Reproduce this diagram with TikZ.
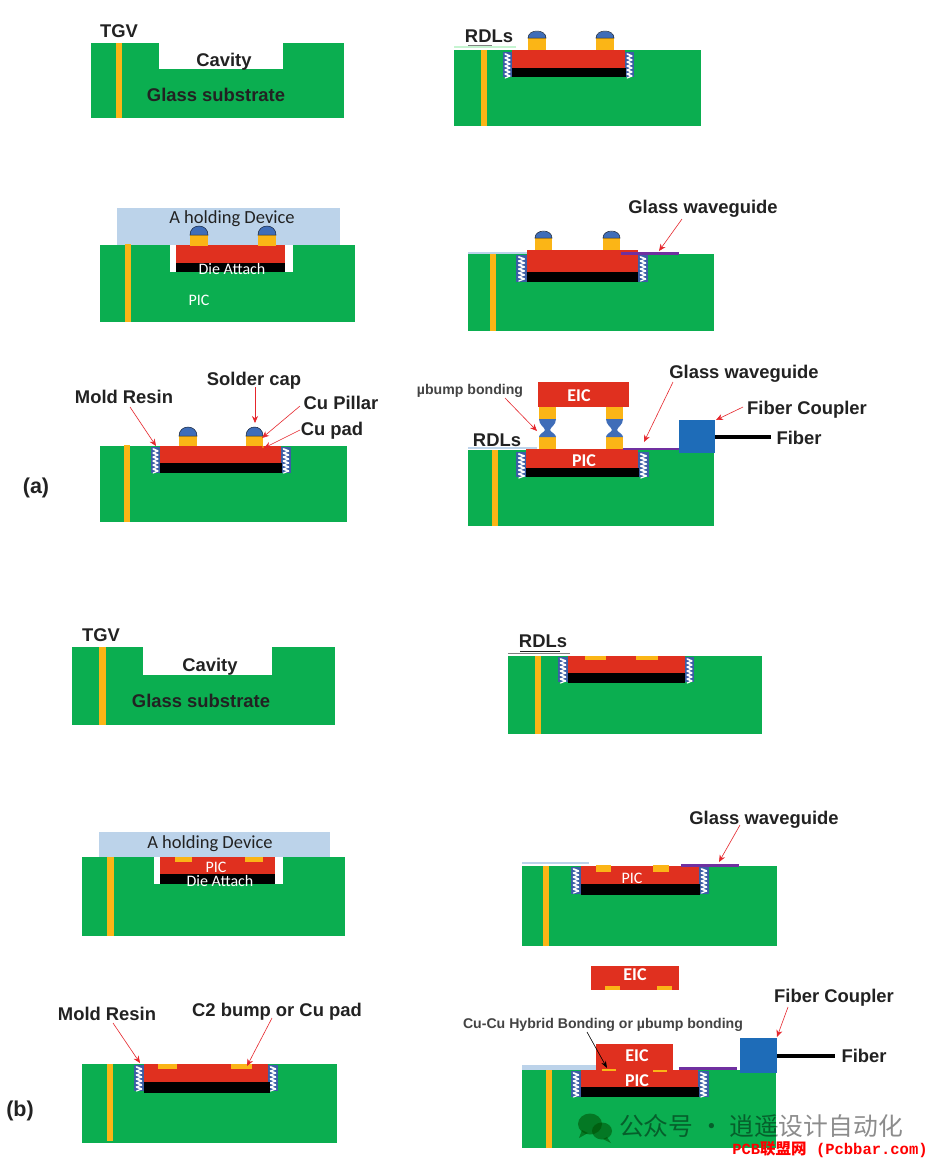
\documentclass[tikz,border=0pt]{standalone}
\usepackage{fontspec}
\setmainfont{Liberation Sans}
\newfontfamily\cjkf{Noto Sans CJK SC}
\newfontfamily\carl{Carlito}
\newfontfamily\monof{Liberation Mono}
\usetikzlibrary{arrows.meta}
\definecolor{glasscol}{HTML}{0BAE50}
\definecolor{picred}{HTML}{E0301F}
\definecolor{cucol}{HTML}{FBB516}
\definecolor{capblue}{HTML}{3F6DB8}
\definecolor{holdercol}{HTML}{BCD3EA}
\definecolor{wavecol}{HTML}{7030A0}
\definecolor{couplercol}{HTML}{1E6CB8}
\definecolor{moldcol}{HTML}{3C5EA6}
\definecolor{ink}{HTML}{222222}
\definecolor{arrowred}{HTML}{E6262C}
\tikzset{
  lbl/.style={font=\bfseries\fontsize{18.4}{20}\selectfont,text=ink,inner sep=0pt,yshift=-1.5pt},
  lblsm/.style={font=\bfseries\fontsize{14.1}{16}\selectfont,text=ink!85,inner sep=0pt,yshift=-1.5pt},
  soft/.style={font=\carl\fontsize{18.5}{20}\selectfont,text=ink,inner sep=0pt,yshift=-1.5pt},
  softw/.style={font=\carl\fontsize{16}{18}\selectfont,text=white,inner sep=0pt,yshift=-1pt},
  chip/.style={font=\carl\bfseries\fontsize{18}{20}\selectfont,text=white,inner sep=0pt,yshift=-1pt},
  panel/.style={font=\bfseries\fontsize{21.5}{24}\selectfont,text=ink,inner sep=0pt,yshift=-1.5pt},
  callout/.style={arrowred,line width=0.6pt,-{Stealth[length=7pt,width=6pt]}},
  calloutk/.style={black,line width=0.6pt,-{Stealth[length=7pt,width=5pt]}},
}
% x1 y1 x2 y2 fill
\newcommand{\blk}[5]{\fill[#5] (#1,#2) rectangle (#3,#4);}
\newcommand{\moldbox}[4]{%
  \fill[moldcol] (#1,#2) rectangle (#3,#4);
  \pgfmathsetmacro{\mxa}{#1+0.25*(#3-#1)}
  \pgfmathsetmacro{\mxb}{#1+0.75*(#3-#1)}
  \pgfmathsetmacro{\mya}{#2+2}
  \pgfmathsetmacro{\myb}{#2+6}
  \pgfmathsetmacro{\myz}{#4-3}
  \foreach \yy in {\mya,\myb,...,\myz}{
    \draw[white,line width=1.7pt,line cap=round] (\mxa,\yy) -- (\mxb,\yy+2);
    \draw[white,line width=1.2pt,line cap=round] (\mxb,\yy+2) -- (\mxa,\yy+4);
  }
}
% x1 x2 ybase ymid ytop
\newcommand{\bump}[5]{%
  \fill[cucol] (#1,#3) rectangle (#2,#4);
  \pgfmathsetmacro{\bc}{#4-(#4-#5)/0.75}
  \filldraw[fill=capblue,draw=black!70!capblue,line width=0.5pt] (#1,#4) .. controls (#1,\bc) and (#2,\bc) .. (#2,#4) -- cycle;
}
% solder joint between x1 x2, y1 waist y2
\newcommand{\solderjoint}[4]{%
  \pgfmathsetmacro{\bm}{(#1+#2)/2}
  \fill[capblue] (#1,#3) -- (#2,#3) .. controls (#2,#3+6) and (\bm+3,#3+8) .. (\bm+2.5,#3+11)
     .. controls (\bm+3,#3+13) and (#2,#3+15) .. (#2,#4)
     -- (#1,#4) .. controls (#1,#3+15) and (\bm-3,#3+13) .. (\bm-2.5,#3+11)
     .. controls (\bm-3,#3+8) and (#1,#3+6) .. (#1,#3) -- cycle;
}
\newcommand{\callout}[6][callout]{%
  \coordinate (#2s) at (#3,#4); \coordinate (#2e) at (#5,#6);
  \draw[#1] (#2s) -- (#2e);
}
\begin{document}
\begin{tikzpicture}[x=1pt,y=-1pt]
\useasboundingbox (0,0) rectangle (933,1163);
\fill[white] (0,0) rectangle (933,1163);

%% ---------- (a) left top
\blk{91}{43}{344}{118}{glasscol}
\blk{159}{43}{283}{69}{white}
\blk{116}{43}{122}{118}{cucol}
\node[lbl] (a1tgv) at (119,30) {TGV};
\node[lbl] (a1cav) at (224,60) {Cavity};
\node[lbl] (a1sub) at (216,93) {Glass substrate};

%% ---------- (a) right top
\blk{454}{50}{701}{126}{glasscol}
\blk{481}{50}{487}{126}{cucol}
\moldbox{503}{52}{512}{77}
\moldbox{625}{52}{634}{77}
\blk{512}{50}{625}{68}{picred}
\blk{512}{68}{626}{77}{black}
\bump{528}{546}{50}{38}{31}
\bump{596}{614}{50}{38}{31}
\draw[holdercol!60!green!40!white,line width=1.2pt] (454,47) -- (516,47);
\draw[gray,line width=0.7pt] (468,45) -- (492,45);
\node[lbl] (a2rdl) at (489,35) {RDLs};

%% ---------- (a) left middle
\blk{100}{245}{355}{322}{glasscol}
\blk{170}{245}{293}{272}{white}
\blk{117}{208}{340}{245}{holdercol}
\blk{125}{244}{131}{322}{cucol}
\blk{176}{245}{285}{263}{picred}
\blk{176}{263}{285}{272}{black}
\bump{190}{208}{246}{235}{226}
\bump{258}{276}{246}{235}{226}
\node[soft] (a3hold) at (232,217) {A holding Device};
\node[softw] (a3die) at (232,268) {Die Attach};
\node[softw] (a3pic) at (199,299) {PIC};

%% ---------- (a) right middle
\blk{468}{254}{714}{331}{glasscol}
\blk{490}{254}{496}{331}{cucol}
\moldbox{516}{255}{527}{282}
\moldbox{638}{255}{648}{282}
\blk{527}{250}{638}{272}{picred}
\blk{527}{272}{638}{282}{black}
\bump{535}{552}{250}{238}{231}
\bump{603}{620}{250}{238}{231}
\draw[holdercol,line width=1.8pt] (468,253) -- (527,253);
\draw[wavecol,line width=3pt] (621,253) -- (679,253);
\node[lbl] (a5wg) at (703,207) {Glass waveguide};
\callout{a5a}{682}{219}{659}{251}

%% ---------- (a) left bottom
\blk{100}{446}{347}{522}{glasscol}
\blk{124}{445}{130}{522}{cucol}
\moldbox{151}{447}{160}{473}
\moldbox{281}{447}{291}{473}
\blk{160}{446}{281}{463}{picred}
\blk{160}{463}{282}{473}{black}
\bump{179}{197}{446}{436}{427}
\bump{246}{263}{446}{436}{427}
\fill[cucol] (263,447) circle (0.8);
\node[lbl] (a4mold) at (124,395) {Mold Resin};
\node[lbl] (a4cap) at (254,379) {Solder cap};
\node[lbl] (a4pil) at (341,401) {Cu Pillar};
\node[lbl] (a4pad) at (332,429) {Cu pad};
\callout{a4a}{130}{407}{156}{446}
\callout{a4b}{255}{387}{255}{423}
\callout{a4c}{300}{406}{262}{438}
\callout{a4d}{300}{430}{264}{448}
\node[panel] (alab) at (36,486) {(a)};

%% ---------- (a) right bottom
\blk{468}{450}{714}{526}{glasscol}
\blk{492}{450}{498}{526}{cucol}
\moldbox{516}{452}{527}{477}
\moldbox{638}{452}{649}{477}
\blk{526}{449}{638}{468}{picred}
\blk{526}{468}{639}{477}{black}
\blk{538}{382}{629}{407}{picred}
\blk{539}{407}{556}{419}{cucol}
\blk{606}{407}{623}{419}{cucol}
\blk{539}{437}{556}{449}{cucol}
\blk{606}{437}{623}{449}{cucol}
\solderjoint{539}{556}{419}{437}
\solderjoint{606}{623}{419}{437}
\draw[holdercol,line width=1.8pt] (468,448) -- (537,448);
\draw[wavecol,line width=2.5pt] (623,449) -- (679,449);
\blk{679}{420}{715}{453}{couplercol}
\coordinate (a6fs) at (715,437);
\coordinate (a6fe) at (771,437);
\draw[black,line width=4.5pt] (a6fs) -- (a6fe);
\node[chip] (a6eic) at (579,395) {EIC};
\node[chip] (a6pic) at (584,460) {PIC};
\node[lbl] (a6rdl) at (497,439) {RDLs};
\node[lblsm] (a6ub) at (470,389) {µbump bonding};
\node[lbl] (a6wg) at (744,372) {Glass waveguide};
\node[lbl] (a6fc) at (807,408) {Fiber Coupler};
\node[lbl] (a6fib) at (799,436) {Fiber};
\callout{a6a}{505}{398}{537}{431}
\callout{a6b}{673}{382}{644}{442}
\callout{a6c}{743}{407}{716}{420}

%% ---------- (b) left top
\blk{72}{647}{335}{725}{glasscol}
\blk{143}{647}{272}{675}{white}
\blk{99}{647}{106}{725}{cucol}
\node[lbl] (b1tgv) at (101,634) {TGV};
\node[lbl] (b1cav) at (210,665) {Cavity};
\node[lbl] (b1sub) at (201,699) {Glass substrate};

%% ---------- (b) right top
\blk{508}{656}{762}{734}{glasscol}
\blk{535}{656}{541}{734}{cucol}
\moldbox{558}{657}{568}{682}
\moldbox{685}{657}{694}{682}
\blk{568}{656}{685}{673}{picred}
\blk{568}{673}{685}{683}{black}
\blk{585}{656}{606}{660}{cucol}
\blk{636}{656}{658}{660}{cucol}
\draw[gray,line width=0.9pt] (508,653) -- (570,653);
\draw[ink,line width=0.9pt] (520,651) -- (560,651);
\node[lbl] (b2rdl) at (543,640) {RDLs};

%% ---------- (b) left middle
\blk{82}{857}{345}{936}{glasscol}
\blk{154}{857}{283}{884}{white}
\blk{99}{832}{330}{857}{holdercol}
\blk{107}{857}{114}{936}{cucol}
\blk{160}{857}{275}{874}{picred}
\blk{160}{874}{275}{884}{black}
\blk{175}{857}{192}{862}{cucol}
\blk{245}{857}{263}{862}{cucol}
\node[soft] (b3hold) at (210,842) {A holding Device};
\node[softw] (b3pic) at (216,866) {PIC};
\node[softw] (b3die) at (220,880) {Die Attach};

%% ---------- (b) right middle
\blk{522}{866}{777}{946}{glasscol}
\blk{543}{866}{549}{946}{cucol}
\moldbox{571}{867}{581}{894}
\moldbox{699}{867}{709}{894}
\blk{581}{866}{699}{884}{picred}
\blk{581}{884}{700}{895}{black}
\blk{596}{865}{611}{872}{cucol}
\blk{653}{865}{669}{872}{cucol}
\draw[holdercol,line width=2pt] (522,863) -- (589,863);
\draw[wavecol,line width=3pt] (681,865) -- (739,865);
\node[softw] (b5pic) at (632,877) {PIC};
\node[lbl] (b5wg) at (764,818) {Glass waveguide};
\callout{b5a}{740}{825}{719}{862}

%% ---------- (b) left bottom
\blk{82}{1064}{337}{1143}{glasscol}
\blk{107}{1064}{113}{1141}{cucol}
\moldbox{134}{1065}{144}{1091}
\moldbox{268}{1065}{278}{1091}
\blk{144}{1064}{268}{1082}{picred}
\blk{144}{1082}{270}{1093}{black}
\blk{158}{1064}{177}{1069}{cucol}
\blk{231}{1064}{252}{1069}{cucol}
\node[lbl] (b4mold) at (107,1012) {Mold Resin};
\node[lbl] (b4c2) at (277,1010) {C2 bump or Cu pad};
\callout{b4a}{113}{1023}{140}{1063}
\callout{b4b}{272}{1018}{247}{1066}
\node[panel] (blab) at (20,1109) {(b)};

%% ---------- (b) right bottom
\blk{591}{966}{679}{990}{picred}
\blk{605}{986}{620}{990}{cucol}
\blk{657}{986}{672}{990}{cucol}
\node[chip] (b6eict) at (635,974) {EIC};
\blk{522}{1070}{776}{1148}{glasscol}
\blk{546}{1070}{552}{1148}{cucol}
\moldbox{571}{1071}{581}{1097}
\moldbox{698}{1071}{709}{1097}
\blk{581}{1070}{698}{1087}{picred}
\blk{581}{1087}{699}{1097}{black}
\blk{596}{1044}{673}{1070}{picred}
\blk{602}{1069}{616}{1071}{cucol}
\blk{653}{1070}{667}{1072}{cucol}
\blk{522}{1065}{596}{1070}{holdercol}
\draw[wavecol,line width=3pt] (679,1068) -- (737,1068);
\blk{740}{1038}{777}{1073}{couplercol}
\coordinate (b6fs) at (777,1056);
\coordinate (b6fe) at (835,1056);
\draw[black,line width=4.5pt] (b6fs) -- (b6fe);
\node[chip] (b6eic) at (637,1055) {EIC};
\node[chip] (b6pic) at (637,1080) {PIC};
\node[lblsm] (b6cu) at (603,1023) {Cu-Cu Hybrid Bonding or µbump bonding};
\node[lbl] (b6fc) at (834,996) {Fiber Coupler};
\node[lbl] (b6fib) at (864,1054) {Fiber};
\callout[calloutk]{b6a}{587}{1032}{607}{1068}
\callout{b6b}{788}{1007}{777}{1037}

%% ---------- watermark
\begin{scope}[black!70!green,opacity=0.55]
\fill (590,1124) ellipse (12 and 10.5);
\fill (602,1131) ellipse (10 and 8.5);
\fill (582,1130) -- (579,1138) -- (588,1133) -- cycle;
\fill (607,1137) -- (611,1143) -- (603,1139) -- cycle;
\end{scope}
\node[font=\cjkf\fontsize{24.8}{27}\selectfont,text=black,opacity=0.45,inner sep=0pt] (wm) at (761,1126) {公众号 · 逍遥设计自动化};
\node[font=\monof\bfseries\fontsize{15.5}{17}\selectfont,text=red,inner sep=0pt] (wm2) at (830,1150) {PCB{\cjkf\bfseries 联盟网} (Pcbbar.com)};
\end{tikzpicture}
\end{document}
